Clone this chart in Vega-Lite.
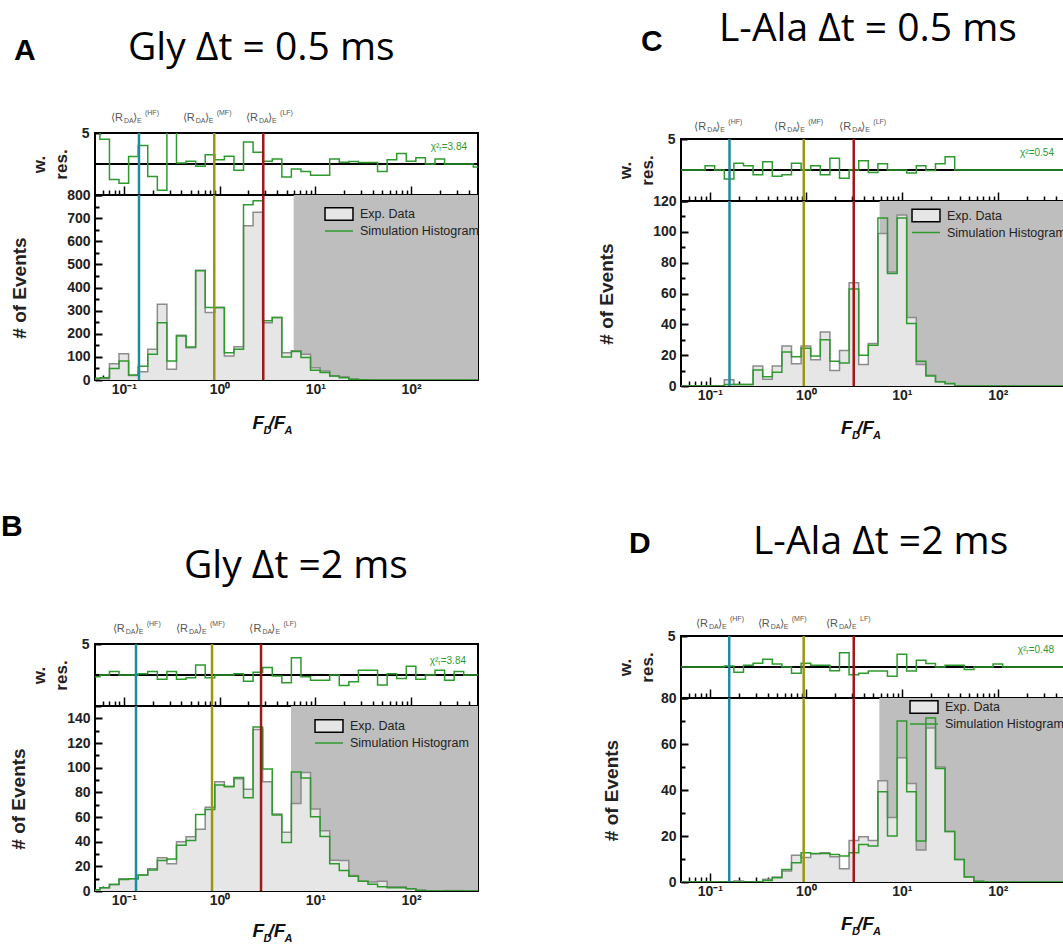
{
"$schema":"https://vega.github.io/schema/vega-lite/v6.json",
"padding":{"left":0,"top":9,"right":0,"bottom":0},
"background":"white",
"datasets":{
"ser":[{"s":"Exp. Data"},{"s":"Simulation Histogram"}],
"lnA":[{"e":0.144,"k":"HF"},{"e":0.88,"k":"MF"},{"e":2.86,"k":"LF"}],
"lnB":[{"e":0.134,"k":"HF"},{"e":0.834,"k":"MF"},{"e":2.71,"k":"LF"}],
"lnC":[{"e":0.16,"k":"HF"},{"e":0.95,"k":"MF"},{"e":3.15,"k":"LF"}],
"lnD":[{"e":0.159,"k":"HF"},{"e":0.948,"k":"MF"},{"e":3.15,"k":"LF"}],
"lbA":[{"e":0.0734,"s":"(HF)"},{"e":0.412,"s":"(MF)"},{"e":1.89,"s":"(LF)"}],
"lbB":[{"e":0.0766,"s":"(HF)"},{"e":0.351,"s":"(MF)"},{"e":2.05,"s":"(LF)"}],
"lbC":[{"e":0.0689,"s":"(HF)"},{"e":0.469,"s":"(MF)"},{"e":2.23,"s":"(LF)"}],
"lbD":[{"e":0.0716,"s":"(HF)"},{"e":0.315,"s":"(MF)"},{"e":1.62,"s":"LF)"}],
"A":[
{"e":0.04467,"exp":0,"sim":8,"res":5.5},{"e":0.05623,"exp":5,"sim":10,"res":4.0},{"e":0.07079,"exp":70,"sim":50,"res":-2.5},{"e":0.08913,"exp":114,"sim":82,"res":-3.1},{"e":0.1122,"exp":20,"sim":22,"res":1.2},{"e":0.1413,"exp":36,"sim":60,"res":3.0},{"e":0.1778,"exp":133,"sim":111,"res":-2.0},{"e":0.2239,"exp":328,"sim":248,"res":-4.25},{"e":0.2818,"exp":46,"sim":82,"res":6},{"e":0.3548,"exp":193,"sim":190,"res":0.15},{"e":0.4467,"exp":140,"sim":143,"res":0.43},{"e":0.5623,"exp":475,"sim":472,"res":-0.38},{"e":0.7079,"exp":292,"sim":313,"res":1.5},{"e":0.8913,"exp":313,"sim":313,"res":0.7},{"e":1.122,"exp":104,"sim":118,"res":1.24},{"e":1.413,"exp":144,"sim":133,"res":-1.0},{"e":1.778,"exp":667,"sim":758,"res":3.55},{"e":2.239,"exp":725,"sim":775,"res":1.88},{"e":2.818,"exp":248,"sim":256,"res":0.43},{"e":3.548,"exp":270,"sim":270,"res":0.8},{"e":4.467,"exp":118,"sim":100,"res":-2.1},{"e":5.623,"exp":126,"sim":123,"res":-0.8},{"e":7.079,"exp":111,"sim":97,"res":-1.2},{"e":8.913,"exp":53,"sim":42,"res":-1.8},{"e":11.22,"exp":39,"sim":32,"res":-1.8},{"e":14.13,"exp":17,"sim":17,"res":0.8},{"e":17.78,"exp":14,"sim":10,"res":0.3},{"e":22.39,"exp":3,"sim":3,"res":0.4},{"e":28.18,"exp":1,"sim":1,"res":0.25},{"e":35.48,"exp":0,"sim":0,"res":0.25},{"e":44.67,"exp":0,"sim":0,"res":-1.2},{"e":56.23,"exp":0,"sim":0,"res":0.7},{"e":70.79,"exp":0,"sim":0,"res":1.7},{"e":89.13,"exp":0,"sim":0,"res":0.45},{"e":112.2,"exp":0,"sim":0,"res":1.0},{"e":141.3,"exp":0,"sim":0,"res":0},{"e":177.8,"exp":0,"sim":0,"res":0.8},{"e":223.9,"exp":0,"sim":0,"res":0},{"e":281.8,"exp":0,"sim":0,"res":0},{"e":354.8,"exp":0,"sim":0,"res":0},{"e":446.7,"exp":0,"sim":0,"res":-0.5},{"e":562.3,"exp":0,"sim":0,"res":-0.5}],
"B":[
{"e":0.04467,"exp":1,"sim":1,"res":-0.3},{"e":0.05623,"exp":2.7,"sim":2.7,"res":0},{"e":0.07079,"exp":5,"sim":5.4,"res":0.55},{"e":0.08913,"exp":10,"sim":9.4,"res":0},{"e":0.1122,"exp":10,"sim":10,"res":0},{"e":0.1413,"exp":13,"sim":13,"res":0.2},{"e":0.1778,"exp":18,"sim":17,"res":0.55},{"e":0.2239,"exp":27,"sim":24.7,"res":-0.7},{"e":0.2818,"exp":22,"sim":26,"res":0.55},{"e":0.3548,"exp":40,"sim":37,"res":-0.7},{"e":0.4467,"exp":44,"sim":41,"res":-0.45},{"e":0.5623,"exp":50,"sim":62,"res":1.6},{"e":0.7079,"exp":68,"sim":66,"res":-0.45},{"e":0.8913,"exp":88.5,"sim":86,"res":0},{"e":1.122,"exp":85,"sim":84.5,"res":0},{"e":1.413,"exp":91,"sim":92,"res":0.2},{"e":1.778,"exp":82.6,"sim":75.6,"res":-1.0},{"e":2.239,"exp":131,"sim":133,"res":0.45},{"e":2.818,"exp":88.5,"sim":99,"res":1.2},{"e":3.548,"exp":62.5,"sim":61.7,"res":-0.15},{"e":4.467,"exp":47.7,"sim":39.4,"res":-1.25},{"e":5.623,"exp":71,"sim":96.5,"res":2.8},{"e":7.079,"exp":96,"sim":91.7,"res":-0.3},{"e":8.913,"exp":66.5,"sim":60.3,"res":-0.85},{"e":11.22,"exp":48.8,"sim":44.2,"res":-0.85},{"e":14.13,"exp":25,"sim":22,"res":0},{"e":17.78,"exp":24.7,"sim":16.6,"res":-1.7},{"e":22.39,"exp":12.6,"sim":12,"res":-1.1},{"e":28.18,"exp":8,"sim":8,"res":0.75},{"e":35.48,"exp":7.2,"sim":5.4,"res":0.75},{"e":44.67,"exp":8,"sim":3.5,"res":-1.6},{"e":56.23,"exp":3.5,"sim":2.7,"res":0.2},{"e":70.79,"exp":3.5,"sim":2.7,"res":-0.55},{"e":89.13,"exp":1.9,"sim":1.9,"res":1.4},{"e":112.2,"exp":0.8,"sim":0.5,"res":-0.7},{"e":141.3,"exp":0.3,"sim":0,"res":0},{"e":177.8,"exp":0,"sim":0,"res":0.75},{"e":223.9,"exp":0.5,"sim":0,"res":-0.85},{"e":281.8,"exp":0.5,"sim":0,"res":0.55},{"e":354.8,"exp":0,"sim":0,"res":0},{"e":446.7,"exp":0,"sim":0,"res":0},{"e":562.3,"exp":0,"sim":0,"res":0}],
"C":[
{"e":0.04467,"exp":0,"sim":0,"res":0},{"e":0.05623,"exp":0,"sim":0,"res":0},{"e":0.07079,"exp":0,"sim":0,"res":0},{"e":0.08913,"exp":0,"sim":0,"res":0.7},{"e":0.1122,"exp":0,"sim":0,"res":0},{"e":0.1413,"exp":4,"sim":1,"res":-1.45},{"e":0.1778,"exp":1,"sim":1,"res":1.1},{"e":0.2239,"exp":1,"sim":1,"res":0.7},{"e":0.2818,"exp":13,"sim":10.4,"res":-0.75},{"e":0.3548,"exp":4.3,"sim":6,"res":1.35},{"e":0.4467,"exp":13,"sim":9,"res":-1.0},{"e":0.5623,"exp":26,"sim":22,"res":-0.75},{"e":0.7079,"exp":14.5,"sim":19,"res":1.1},{"e":0.8913,"exp":26,"sim":24.5,"res":0},{"e":1.122,"exp":17,"sim":19.5,"res":0.7},{"e":1.413,"exp":35,"sim":30,"res":-0.75},{"e":1.778,"exp":10,"sim":16,"res":1.9},{"e":2.239,"exp":23,"sim":15,"res":-1.35},{"e":2.818,"exp":67,"sim":63,"res":0},{"e":3.548,"exp":14,"sim":20,"res":1.5},{"e":4.467,"exp":27.5,"sim":26.5,"res":-0.4},{"e":5.623,"exp":99,"sim":109,"res":1.0},{"e":7.079,"exp":74,"sim":73,"res":0},{"e":8.913,"exp":111,"sim":109,"res":0},{"e":11.22,"exp":44.5,"sim":40.6,"res":-0.5},{"e":14.13,"exp":14,"sim":16,"res":0.7},{"e":17.78,"exp":7,"sim":6.5,"res":-0.1},{"e":22.39,"exp":2.8,"sim":2.8,"res":1.0},{"e":28.18,"exp":1.5,"sim":1.7,"res":2.15},{"e":35.48,"exp":0,"sim":0,"res":0},{"e":44.67,"exp":0,"sim":0,"res":0},{"e":56.23,"exp":0,"sim":0,"res":0},{"e":70.79,"exp":0,"sim":0,"res":0},{"e":89.13,"exp":0,"sim":0,"res":0},{"e":112.2,"exp":0,"sim":0,"res":0},{"e":141.3,"exp":0,"sim":0,"res":0},{"e":177.8,"exp":0,"sim":0,"res":0},{"e":223.9,"exp":0,"sim":0,"res":0},{"e":281.8,"exp":0,"sim":0,"res":0},{"e":354.8,"exp":0,"sim":0,"res":0},{"e":446.7,"exp":0,"sim":0,"res":0},{"e":562.3,"exp":0,"sim":0,"res":0}],
"D":[
{"e":0.04467,"exp":0,"sim":0,"res":0},{"e":0.05623,"exp":0,"sim":0,"res":0},{"e":0.07079,"exp":0,"sim":0,"res":0},{"e":0.08913,"exp":0,"sim":0,"res":0},{"e":0.1122,"exp":0,"sim":0,"res":0},{"e":0.1413,"exp":0,"sim":0,"res":0.15},{"e":0.1778,"exp":0.4,"sim":0,"res":-0.85},{"e":0.2239,"exp":0,"sim":0,"res":0.3},{"e":0.2818,"exp":0,"sim":0,"res":0.6},{"e":0.3548,"exp":1.2,"sim":0.7,"res":1.25},{"e":0.4467,"exp":2.2,"sim":1.9,"res":0.5},{"e":0.5623,"exp":4.8,"sim":5.4,"res":0},{"e":0.7079,"exp":11.6,"sim":8.4,"res":-1.0},{"e":0.8913,"exp":10.6,"sim":12.7,"res":0.6},{"e":1.122,"exp":12.3,"sim":12.4,"res":0.3},{"e":1.413,"exp":12.7,"sim":12.4,"res":0.3},{"e":1.778,"exp":11,"sim":12,"res":-0.6},{"e":2.239,"exp":5.8,"sim":11.3,"res":2.3},{"e":2.818,"exp":18,"sim":12.7,"res":-1.25},{"e":3.548,"exp":19.7,"sim":16.3,"res":-1.0},{"e":4.467,"exp":18,"sim":15.6,"res":-0.65},{"e":5.623,"exp":44,"sim":39.2,"res":-0.65},{"e":7.079,"exp":28,"sim":20,"res":-1.5},{"e":8.913,"exp":54,"sim":70,"res":2.05},{"e":11.22,"exp":42.8,"sim":39.2,"res":-0.65},{"e":14.13,"exp":13.9,"sim":17.8,"res":1.1},{"e":17.78,"exp":67,"sim":71.3,"res":0.55},{"e":22.39,"exp":50,"sim":49.3,"res":0},{"e":28.18,"exp":22,"sim":22,"res":0.3},{"e":35.48,"exp":9.8,"sim":9.8,"res":0.3},{"e":44.67,"exp":2.3,"sim":2.2,"res":-0.4},{"e":56.23,"exp":0.3,"sim":0.3,"res":0},{"e":70.79,"exp":0,"sim":0,"res":0},{"e":89.13,"exp":0,"sim":0,"res":0.5},{"e":112.2,"exp":0,"sim":0,"res":0},{"e":141.3,"exp":0,"sim":0,"res":0},{"e":177.8,"exp":0,"sim":0,"res":0},{"e":223.9,"exp":0,"sim":0,"res":0},{"e":281.8,"exp":0,"sim":0,"res":0},{"e":354.8,"exp":0,"sim":0,"res":0},{"e":446.7,"exp":0,"sim":0,"res":0},{"e":562.3,"exp":0,"sim":0,"res":0}]
},
"bounds":"flush",
"spacing":586,
"resolve":{"scale":{"fill":"independent","stroke":"independent","shape":"independent"}},
"hconcat":[
{"vconcat":[
{"width":383,"height":62,"layer":[
 {"data":{"values":[{}]},"mark":{"type":"rule","color":"black","strokeWidth":2},"encoding":{"y":{"datum":0,"type":"quantitative"}}},
 {"data":{"name":"A"},"mark":{"type":"line","interpolate":"step-after","color":"#2e9a2e","strokeWidth":1.5,"clip":true},"encoding":{"x":{"field":"e","type":"quantitative","scale":{"type":"log","domain":[0.05,500],"nice":false},"axis":{"title":null,"labels":false,"values":[0.06,0.07,0.08,0.09,0.1,0.2,0.3,0.4,0.5,0.6,0.7,0.8,0.9,1,2,3,4,5,6,7,8,9,10,20,30,40,50,60,70,80,90,100,200,300,400],"tickSize":{"condition":{"test":"abs(log(datum.value)/LN10 - round(log(datum.value)/LN10)) < 0.01","value":-9},"value":-5}}},"y":{"field":"res","type":"quantitative","scale":{"domain":[-5,5],"nice":false},"axis":{"title":["w.","res."],"values":[-5,-2.5,0,2.5,5],"labelExpr":"datum.value == 5 || datum.value == 0 ? datum.label : ''","labelSeparation":-40,"tickSize":-6,"tickWidth":2,"titleFontSize":17,"titleLineHeight":22,"titlePadding":11}}}},
 {"data":{"name":"lnA"},"mark":{"type":"rule","strokeWidth":2.5},"encoding":{"x":{"field":"e","type":"quantitative","title":null},"color":{"field":"k","type":"nominal","scale":{"domain":["HF","MF","LF"],"range":["#1e8c9c","#9a9614","#a01818"]},"legend":null}}},
 {"data":{"name":"lbA"},"mark":{"type":"text","text":"⟨R","align":"left","fontSize":11,"color":"#555555","dy":-12},"encoding":{"x":{"field":"e","type":"quantitative","title":null},"y":{"datum":5}}},
 {"data":{"name":"lbA"},"mark":{"type":"text","text":"DA","align":"left","fontSize":7,"color":"#555555","dx":13,"dy":-10},"encoding":{"x":{"field":"e","type":"quantitative","title":null},"y":{"datum":5}}},
 {"data":{"name":"lbA"},"mark":{"type":"text","text":"⟩","align":"left","fontSize":11,"color":"#555555","dx":22,"dy":-12},"encoding":{"x":{"field":"e","type":"quantitative","title":null},"y":{"datum":5}}},
 {"data":{"name":"lbA"},"mark":{"type":"text","text":"E","align":"left","fontSize":7,"color":"#555555","dx":26,"dy":-10},"encoding":{"x":{"field":"e","type":"quantitative","title":null},"y":{"datum":5}}},
 {"data":{"name":"lbA"},"mark":{"type":"text","align":"left","fontSize":7,"color":"#555555","dx":34,"dy":-18},"encoding":{"x":{"field":"e","type":"quantitative","title":null},"y":{"datum":5},"text":{"field":"s"}}},
 {"data":{"values":[{}]},"mark":{"type":"text","text":"χ²ᵣ=3.84","align":"right","fontSize":10,"color":"#2e9a2e","dx":-11,"dy":17},"encoding":{"x":{"datum":500},"y":{"datum":5}}},
 {"data":{"values":[{}]},"mark":{"type":"text","text":"A","align":"left","fontSize":30,"fontWeight":"bold","color":"black","dx":-81,"dy":-73},"encoding":{"x":{"datum":0.05},"y":{"datum":5}}},
 {"data":{"values":[{}]},"mark":{"type":"text","text":"Gly Δt = 0.5 ms","align":"left","font":"Open Sans","fontSize":39,"color":"black","dx":33,"dy":-73},"encoding":{"x":{"datum":0.05},"y":{"datum":5}}}
]},
{"width":383,"height":185,"resolve":{"axis":{"y":"independent"}},"layer":[
 {"data":{"values":[{}]},"mark":{"type":"rect","color":"#bebebe","clip":true},"encoding":{"x":{"datum":5.94},"x2":{"datum":2000}}},
 {"data":{"name":"A"},"mark":{"type":"area","interpolate":"step-after","color":"#e6e6e6","clip":true},"encoding":{"x":{"field":"e","type":"quantitative","scale":{"type":"log","domain":[0.05,500],"nice":false},"axis":{"title":null,"values":[0.06,0.07,0.08,0.09,0.1,0.2,0.3,0.4,0.5,0.6,0.7,0.8,0.9,1,2,3,4,5,6,7,8,9,10,20,30,40,50,60,70,80,90,100,200,300,400],"labelExpr":"datum.value == 0.1 ? '10⁻¹' : datum.value == 1 ? '10⁰' : datum.value == 10 ? '10¹' : datum.value == 100 ? '10²' : ''","labelOverlap":false,"labelFlush":false,"labelPadding":11,"tickSize":{"condition":{"test":"abs(log(datum.value)/LN10 - round(log(datum.value)/LN10)) < 0.01","value":-9},"value":-5}}},"y":{"field":"exp","type":"quantitative","scale":{"domain":[0,800],"nice":false},"axis":{"orient":"left","title":"# of Events","values":[0,200,400,600,800],"tickSize":-7,"tickWidth":2,"titleFontSize":19,"titlePadding":37}}}},
 {"data":{"name":"A"},"mark":{"type":"line","interpolate":"step-after","color":"#8c8c8c","strokeWidth":1.5,"clip":true},"encoding":{"x":{"field":"e","type":"quantitative","title":null},"y":{"field":"exp","type":"quantitative","axis":{"orient":"left","title":null,"values":[100,300,500,700],"tickSize":-7,"tickWidth":2}}}},
 {"data":{"name":"A"},"mark":{"type":"line","interpolate":"step-after","color":"#2e9a2e","strokeWidth":1.5,"clip":true},"encoding":{"x":{"field":"e","type":"quantitative","title":null},"y":{"field":"sim","type":"quantitative","axis":{"orient":"left","title":null,"labels":false,"values":[50,150,250,350,450,550,650,750],"tickSize":-4,"tickWidth":2}}}},
 {"data":{"name":"lnA"},"mark":{"type":"rule","strokeWidth":2.5},"encoding":{"x":{"field":"e","type":"quantitative","title":null},"color":{"field":"k","type":"nominal","legend":null}}},
 {"data":{"name":"ser"},"mark":{"type":"point","clip":true,"filled":true,"opacity":1},"encoding":{"x":{"datum":0.001},
   "shape":{"field":"s","type":"nominal","scale":{"range":["M-2.15,-0.95H2.15V0.95H-2.15Z","M-2.15,0H2.15"]},"legend":{"title":null,"orient":"none","legendX":236.5,"legendY":11.5,"symbolSize":169,"symbolStrokeWidth":1.5,"labelFont":"Liberation Sans","labelFontSize":12.5,"labelColor":"#222222","labelOffset":13.5,"rowPadding":-3,"padding":0}},
   "fill":{"field":"s","type":"nominal","scale":{"range":["#e6e6e6","transparent"]},"legend":{"title":null,"orient":"none","legendX":236.5,"legendY":11.5,"symbolSize":169,"symbolStrokeWidth":1.5,"labelFont":"Liberation Sans","labelFontSize":12.5,"labelColor":"#222222","labelOffset":13.5,"rowPadding":-3,"padding":0}},
   "stroke":{"field":"s","type":"nominal","scale":{"range":["#000000","#2e9a2e"]},"legend":{"title":null,"orient":"none","legendX":236.5,"legendY":11.5,"symbolSize":169,"symbolStrokeWidth":1.5,"labelFont":"Liberation Sans","labelFontSize":12.5,"labelColor":"#222222","labelOffset":13.5,"rowPadding":-3,"padding":0}}}},
 {"data":{"values":[{}]},"mark":{"type":"text","text":"F","align":"left","fontSize":19,"fontWeight":"bold","fontStyle":"italic","color":"#111111","dx":33,"dy":49},"encoding":{"x":{"datum":1},"y":{"datum":0,"axis":null}}},
 {"data":{"values":[{}]},"mark":{"type":"text","text":"D","align":"left","fontSize":11,"fontWeight":"bold","fontStyle":"italic","color":"#111111","dx":44,"dy":54},"encoding":{"x":{"datum":1},"y":{"datum":0,"axis":null}}},
 {"data":{"values":[{}]},"mark":{"type":"text","text":"/F","align":"left","fontSize":19,"fontWeight":"bold","fontStyle":"italic","color":"#111111","dx":49,"dy":49},"encoding":{"x":{"datum":1},"y":{"datum":0,"axis":null}}},
 {"data":{"values":[{}]},"mark":{"type":"text","text":"A","align":"left","fontSize":11,"fontWeight":"bold","fontStyle":"italic","color":"#111111","dx":65,"dy":54},"encoding":{"x":{"datum":1},"y":{"datum":0,"axis":null}}}
]},
{"width":383,"height":264,"view":{"stroke":null},"data":{"values":[]},"mark":"point"},
{"width":383,"height":62,"layer":[
 {"data":{"values":[{}]},"mark":{"type":"rule","color":"black","strokeWidth":2},"encoding":{"y":{"datum":0,"type":"quantitative"}}},
 {"data":{"name":"B"},"mark":{"type":"line","interpolate":"step-after","color":"#2e9a2e","strokeWidth":1.5,"clip":true},"encoding":{"x":{"field":"e","type":"quantitative","scale":{"type":"log","domain":[0.05,500],"nice":false},"axis":{"title":null,"labels":false,"values":[0.06,0.07,0.08,0.09,0.1,0.2,0.3,0.4,0.5,0.6,0.7,0.8,0.9,1,2,3,4,5,6,7,8,9,10,20,30,40,50,60,70,80,90,100,200,300,400],"tickSize":{"condition":{"test":"abs(log(datum.value)/LN10 - round(log(datum.value)/LN10)) < 0.01","value":-9},"value":-5}}},"y":{"field":"res","type":"quantitative","scale":{"domain":[-5,5],"nice":false},"axis":{"title":["w.","res."],"values":[-5,-2.5,0,2.5,5],"labelExpr":"datum.value == 5 || datum.value == 0 ? datum.label : ''","labelSeparation":-40,"tickSize":-6,"tickWidth":2,"titleFontSize":17,"titleLineHeight":22,"titlePadding":11}}}},
 {"data":{"name":"lnB"},"mark":{"type":"rule","strokeWidth":2.5},"encoding":{"x":{"field":"e","type":"quantitative","title":null},"color":{"field":"k","type":"nominal","legend":null}}},
 {"data":{"name":"lbB"},"mark":{"type":"text","text":"⟨R","align":"left","fontSize":11,"color":"#555555","dy":-12},"encoding":{"x":{"field":"e","type":"quantitative","title":null},"y":{"datum":5}}},
 {"data":{"name":"lbB"},"mark":{"type":"text","text":"DA","align":"left","fontSize":7,"color":"#555555","dx":13,"dy":-10},"encoding":{"x":{"field":"e","type":"quantitative","title":null},"y":{"datum":5}}},
 {"data":{"name":"lbB"},"mark":{"type":"text","text":"⟩","align":"left","fontSize":11,"color":"#555555","dx":22,"dy":-12},"encoding":{"x":{"field":"e","type":"quantitative","title":null},"y":{"datum":5}}},
 {"data":{"name":"lbB"},"mark":{"type":"text","text":"E","align":"left","fontSize":7,"color":"#555555","dx":26,"dy":-10},"encoding":{"x":{"field":"e","type":"quantitative","title":null},"y":{"datum":5}}},
 {"data":{"name":"lbB"},"mark":{"type":"text","align":"left","fontSize":7,"color":"#555555","dx":34,"dy":-18},"encoding":{"x":{"field":"e","type":"quantitative","title":null},"y":{"datum":5},"text":{"field":"s"}}},
 {"data":{"values":[{}]},"mark":{"type":"text","text":"χ²ᵣ=3.84","align":"right","fontSize":10,"color":"#2e9a2e","dx":-12,"dy":20},"encoding":{"x":{"datum":500},"y":{"datum":5}}},
 {"data":{"values":[{}]},"mark":{"type":"text","text":"B","align":"left","fontSize":30,"fontWeight":"bold","color":"black","dx":-94,"dy":-108},"encoding":{"x":{"datum":0.05},"y":{"datum":5}}},
 {"data":{"values":[{}]},"mark":{"type":"text","text":"Gly Δt =2 ms","align":"left","font":"Open Sans","fontSize":39,"color":"black","dx":89,"dy":-66},"encoding":{"x":{"datum":0.05},"y":{"datum":5}}}
]},
{"width":383,"height":185,"resolve":{"axis":{"y":"independent"}},"layer":[
 {"data":{"values":[{}]},"mark":{"type":"rect","color":"#bebebe","clip":true},"encoding":{"x":{"datum":5.57},"x2":{"datum":2000}}},
 {"data":{"name":"B"},"mark":{"type":"area","interpolate":"step-after","color":"#e6e6e6","clip":true},"encoding":{"x":{"field":"e","type":"quantitative","scale":{"type":"log","domain":[0.05,500],"nice":false},"axis":{"title":null,"values":[0.06,0.07,0.08,0.09,0.1,0.2,0.3,0.4,0.5,0.6,0.7,0.8,0.9,1,2,3,4,5,6,7,8,9,10,20,30,40,50,60,70,80,90,100,200,300,400],"labelExpr":"datum.value == 0.1 ? '10⁻¹' : datum.value == 1 ? '10⁰' : datum.value == 10 ? '10¹' : datum.value == 100 ? '10²' : ''","labelOverlap":false,"labelFlush":false,"labelPadding":11,"tickSize":{"condition":{"test":"abs(log(datum.value)/LN10 - round(log(datum.value)/LN10)) < 0.01","value":-9},"value":-5}}},"y":{"field":"exp","type":"quantitative","scale":{"domain":[0,150],"nice":false},"axis":{"orient":"left","title":"# of Events","values":[0,40,80,120],"tickSize":-7,"tickWidth":2,"titleFontSize":19,"titlePadding":38}}}},
 {"data":{"name":"B"},"mark":{"type":"line","interpolate":"step-after","color":"#8c8c8c","strokeWidth":1.5,"clip":true},"encoding":{"x":{"field":"e","type":"quantitative","title":null},"y":{"field":"exp","type":"quantitative","axis":{"orient":"left","title":null,"values":[20,60,100,140],"tickSize":-7,"tickWidth":2}}}},
 {"data":{"name":"B"},"mark":{"type":"line","interpolate":"step-after","color":"#2e9a2e","strokeWidth":1.5,"clip":true},"encoding":{"x":{"field":"e","type":"quantitative","title":null},"y":{"field":"sim","type":"quantitative","axis":{"orient":"left","title":null,"labels":false,"values":[10,30,50,70,90,110,130],"tickSize":-4,"tickWidth":2}}}},
 {"data":{"name":"lnB"},"mark":{"type":"rule","strokeWidth":2.5},"encoding":{"x":{"field":"e","type":"quantitative","title":null},"color":{"field":"k","type":"nominal","legend":null}}},
 {"data":{"name":"ser"},"mark":{"type":"point","clip":true,"filled":true,"opacity":1},"encoding":{"x":{"datum":0.001},
   "shape":{"field":"s","type":"nominal","scale":{"range":["M-2.15,-0.95H2.15V0.95H-2.15Z","M-2.15,0H2.15"]},"legend":{"title":null,"orient":"none","legendX":226.5,"legendY":12.5,"symbolSize":169,"symbolStrokeWidth":1.5,"labelFont":"Liberation Sans","labelFontSize":12.5,"labelColor":"#222222","labelOffset":13.5,"rowPadding":-3,"padding":0}},
   "fill":{"field":"s","type":"nominal","scale":{"range":["#e6e6e6","transparent"]},"legend":{"title":null,"orient":"none","legendX":226.5,"legendY":12.5,"symbolSize":169,"symbolStrokeWidth":1.5,"labelFont":"Liberation Sans","labelFontSize":12.5,"labelColor":"#222222","labelOffset":13.5,"rowPadding":-3,"padding":0}},
   "stroke":{"field":"s","type":"nominal","scale":{"range":["#000000","#2e9a2e"]},"legend":{"title":null,"orient":"none","legendX":226.5,"legendY":12.5,"symbolSize":169,"symbolStrokeWidth":1.5,"labelFont":"Liberation Sans","labelFontSize":12.5,"labelColor":"#222222","labelOffset":13.5,"rowPadding":-3,"padding":0}}}},
 {"data":{"values":[{}]},"mark":{"type":"text","text":"F","align":"left","fontSize":19,"fontWeight":"bold","fontStyle":"italic","color":"#111111","dx":33,"dy":46},"encoding":{"x":{"datum":1},"y":{"datum":0,"axis":null}}},
 {"data":{"values":[{}]},"mark":{"type":"text","text":"D","align":"left","fontSize":11,"fontWeight":"bold","fontStyle":"italic","color":"#111111","dx":44,"dy":51},"encoding":{"x":{"datum":1},"y":{"datum":0,"axis":null}}},
 {"data":{"values":[{}]},"mark":{"type":"text","text":"/F","align":"left","fontSize":19,"fontWeight":"bold","fontStyle":"italic","color":"#111111","dx":49,"dy":46},"encoding":{"x":{"datum":1},"y":{"datum":0,"axis":null}}},
 {"data":{"values":[{}]},"mark":{"type":"text","text":"A","align":"left","fontSize":11,"fontWeight":"bold","fontStyle":"italic","color":"#111111","dx":65,"dy":51},"encoding":{"x":{"datum":1},"y":{"datum":0,"axis":null}}}
]}
],"spacing":0,"bounds":"flush","resolve":{"scale":{"fill":"independent","stroke":"independent","shape":"independent"}}},

{"vconcat":[
{"width":384,"height":6,"view":{"stroke":null},"data":{"values":[]},"mark":"point"},
{"width":384,"height":62,"layer":[
 {"data":{"values":[{}]},"mark":{"type":"rule","color":"black","strokeWidth":2},"encoding":{"y":{"datum":0,"type":"quantitative"}}},
 {"data":{"name":"C"},"mark":{"type":"line","interpolate":"step-after","color":"#2e9a2e","strokeWidth":1.5,"clip":true},"encoding":{"x":{"field":"e","type":"quantitative","scale":{"type":"log","domain":[0.05,500],"nice":false},"axis":{"title":null,"labels":false,"values":[0.06,0.07,0.08,0.09,0.1,0.2,0.3,0.4,0.5,0.6,0.7,0.8,0.9,1,2,3,4,5,6,7,8,9,10,20,30,40,50,60,70,80,90,100,200,300,400],"tickSize":{"condition":{"test":"abs(log(datum.value)/LN10 - round(log(datum.value)/LN10)) < 0.01","value":-9},"value":-5}}},"y":{"field":"res","type":"quantitative","scale":{"domain":[-5,5],"nice":false},"axis":{"title":["w.","res."],"values":[-5,-2.5,0,2.5,5],"labelExpr":"datum.value == 5 || datum.value == 0 ? datum.label : ''","labelSeparation":-40,"tickSize":-6,"tickWidth":2,"titleFontSize":17,"titleLineHeight":22,"titlePadding":11}}}},
 {"data":{"name":"lnC"},"mark":{"type":"rule","strokeWidth":2.5},"encoding":{"x":{"field":"e","type":"quantitative","title":null},"color":{"field":"k","type":"nominal","legend":null}}},
 {"data":{"name":"lbC"},"mark":{"type":"text","text":"⟨R","align":"left","fontSize":11,"color":"#555555","dy":-9},"encoding":{"x":{"field":"e","type":"quantitative","title":null},"y":{"datum":5}}},
 {"data":{"name":"lbC"},"mark":{"type":"text","text":"DA","align":"left","fontSize":7,"color":"#555555","dx":13,"dy":-7},"encoding":{"x":{"field":"e","type":"quantitative","title":null},"y":{"datum":5}}},
 {"data":{"name":"lbC"},"mark":{"type":"text","text":"⟩","align":"left","fontSize":11,"color":"#555555","dx":22,"dy":-9},"encoding":{"x":{"field":"e","type":"quantitative","title":null},"y":{"datum":5}}},
 {"data":{"name":"lbC"},"mark":{"type":"text","text":"E","align":"left","fontSize":7,"color":"#555555","dx":26,"dy":-7},"encoding":{"x":{"field":"e","type":"quantitative","title":null},"y":{"datum":5}}},
 {"data":{"name":"lbC"},"mark":{"type":"text","align":"left","fontSize":7,"color":"#555555","dx":34,"dy":-15},"encoding":{"x":{"field":"e","type":"quantitative","title":null},"y":{"datum":5},"text":{"field":"s"}}},
 {"data":{"values":[{}]},"mark":{"type":"text","text":"χ²=0.54","align":"right","fontSize":10,"color":"#2e9a2e","dx":-11,"dy":17},"encoding":{"x":{"datum":500},"y":{"datum":5}}},
 {"data":{"values":[{}]},"mark":{"type":"text","text":"C","align":"left","fontSize":30,"fontWeight":"bold","color":"black","dx":-40,"dy":-88},"encoding":{"x":{"datum":0.05},"y":{"datum":5}}},
 {"data":{"values":[{}]},"mark":{"type":"text","text":"L-Ala Δt = 0.5 ms","align":"left","font":"Open Sans","fontSize":39,"color":"black","dx":38,"dy":-98},"encoding":{"x":{"datum":0.05},"y":{"datum":5}}}
]},
{"width":384,"height":185,"resolve":{"axis":{"y":"independent"}},"layer":[
 {"data":{"values":[{}]},"mark":{"type":"rect","color":"#bebebe","clip":true},"encoding":{"x":{"datum":5.85},"x2":{"datum":2000}}},
 {"data":{"name":"C"},"mark":{"type":"area","interpolate":"step-after","color":"#e6e6e6","clip":true},"encoding":{"x":{"field":"e","type":"quantitative","scale":{"type":"log","domain":[0.05,500],"nice":false},"axis":{"title":null,"values":[0.06,0.07,0.08,0.09,0.1,0.2,0.3,0.4,0.5,0.6,0.7,0.8,0.9,1,2,3,4,5,6,7,8,9,10,20,30,40,50,60,70,80,90,100,200,300,400],"labelExpr":"datum.value == 0.1 ? '10⁻¹' : datum.value == 1 ? '10⁰' : datum.value == 10 ? '10¹' : datum.value == 100 ? '10²' : ''","labelOverlap":false,"labelFlush":false,"labelPadding":11,"tickSize":{"condition":{"test":"abs(log(datum.value)/LN10 - round(log(datum.value)/LN10)) < 0.01","value":-9},"value":-5}}},"y":{"field":"exp","type":"quantitative","scale":{"domain":[0,120],"nice":false},"axis":{"orient":"left","title":"# of Events","values":[0,40,80,120],"tickSize":-7,"tickWidth":2,"titleFontSize":19,"titlePadding":36}}}},
 {"data":{"name":"C"},"mark":{"type":"line","interpolate":"step-after","color":"#8c8c8c","strokeWidth":1.5,"clip":true},"encoding":{"x":{"field":"e","type":"quantitative","title":null},"y":{"field":"exp","type":"quantitative","axis":{"orient":"left","title":null,"values":[20,60,100],"tickSize":-7,"tickWidth":2}}}},
 {"data":{"name":"C"},"mark":{"type":"line","interpolate":"step-after","color":"#2e9a2e","strokeWidth":1.5,"clip":true},"encoding":{"x":{"field":"e","type":"quantitative","title":null},"y":{"field":"sim","type":"quantitative","axis":{"orient":"left","title":null,"labels":false,"values":[10,30,50,70,90,110],"tickSize":-4,"tickWidth":2}}}},
 {"data":{"name":"lnC"},"mark":{"type":"rule","strokeWidth":2.5},"encoding":{"x":{"field":"e","type":"quantitative","title":null},"color":{"field":"k","type":"nominal","legend":null}}},
 {"data":{"name":"ser"},"mark":{"type":"point","clip":true,"filled":true,"opacity":1},"encoding":{"x":{"datum":0.001},
   "shape":{"field":"s","type":"nominal","scale":{"range":["M-2.15,-0.95H2.15V0.95H-2.15Z","M-2.15,0H2.15"]},"legend":{"title":null,"orient":"none","legendX":237.5,"legendY":7,"symbolSize":169,"symbolStrokeWidth":1.5,"labelFont":"Liberation Sans","labelFontSize":12.5,"labelColor":"#222222","labelOffset":13.5,"rowPadding":-3,"padding":0}},
   "fill":{"field":"s","type":"nominal","scale":{"range":["#e6e6e6","transparent"]},"legend":{"title":null,"orient":"none","legendX":237.5,"legendY":7,"symbolSize":169,"symbolStrokeWidth":1.5,"labelFont":"Liberation Sans","labelFontSize":12.5,"labelColor":"#222222","labelOffset":13.5,"rowPadding":-3,"padding":0}},
   "stroke":{"field":"s","type":"nominal","scale":{"range":["#000000","#2e9a2e"]},"legend":{"title":null,"orient":"none","legendX":237.5,"legendY":7,"symbolSize":169,"symbolStrokeWidth":1.5,"labelFont":"Liberation Sans","labelFontSize":12.5,"labelColor":"#222222","labelOffset":13.5,"rowPadding":-3,"padding":0}}}},
 {"data":{"values":[{}]},"mark":{"type":"text","text":"F","align":"left","fontSize":19,"fontWeight":"bold","fontStyle":"italic","color":"#111111","dx":35,"dy":48},"encoding":{"x":{"datum":1},"y":{"datum":0,"axis":null}}},
 {"data":{"values":[{}]},"mark":{"type":"text","text":"D","align":"left","fontSize":11,"fontWeight":"bold","fontStyle":"italic","color":"#111111","dx":46,"dy":53},"encoding":{"x":{"datum":1},"y":{"datum":0,"axis":null}}},
 {"data":{"values":[{}]},"mark":{"type":"text","text":"/F","align":"left","fontSize":19,"fontWeight":"bold","fontStyle":"italic","color":"#111111","dx":51,"dy":48},"encoding":{"x":{"datum":1},"y":{"datum":0,"axis":null}}},
 {"data":{"values":[{}]},"mark":{"type":"text","text":"A","align":"left","fontSize":11,"fontWeight":"bold","fontStyle":"italic","color":"#111111","dx":67,"dy":53},"encoding":{"x":{"datum":1},"y":{"datum":0,"axis":null}}}
]},
{"width":384,"height":250,"view":{"stroke":null},"data":{"values":[]},"mark":"point"},
{"width":384,"height":62,"layer":[
 {"data":{"values":[{}]},"mark":{"type":"rule","color":"black","strokeWidth":2},"encoding":{"y":{"datum":0,"type":"quantitative"}}},
 {"data":{"name":"D"},"mark":{"type":"line","interpolate":"step-after","color":"#2e9a2e","strokeWidth":1.5,"clip":true},"encoding":{"x":{"field":"e","type":"quantitative","scale":{"type":"log","domain":[0.05,500],"nice":false},"axis":{"title":null,"labels":false,"values":[0.06,0.07,0.08,0.09,0.1,0.2,0.3,0.4,0.5,0.6,0.7,0.8,0.9,1,2,3,4,5,6,7,8,9,10,20,30,40,50,60,70,80,90,100,200,300,400],"tickSize":{"condition":{"test":"abs(log(datum.value)/LN10 - round(log(datum.value)/LN10)) < 0.01","value":-9},"value":-5}}},"y":{"field":"res","type":"quantitative","scale":{"domain":[-5,5],"nice":false},"axis":{"title":["w.","res."],"values":[-5,-2.5,0,2.5,5],"labelExpr":"datum.value == 5 || datum.value == 0 ? datum.label : ''","labelSeparation":-40,"tickSize":-6,"tickWidth":2,"titleFontSize":17,"titleLineHeight":22,"titlePadding":11}}}},
 {"data":{"name":"lnD"},"mark":{"type":"rule","strokeWidth":2.5},"encoding":{"x":{"field":"e","type":"quantitative","title":null},"color":{"field":"k","type":"nominal","legend":null}}},
 {"data":{"name":"lbD"},"mark":{"type":"text","text":"⟨R","align":"left","fontSize":11,"color":"#555555","dy":-9},"encoding":{"x":{"field":"e","type":"quantitative","title":null},"y":{"datum":5}}},
 {"data":{"name":"lbD"},"mark":{"type":"text","text":"DA","align":"left","fontSize":7,"color":"#555555","dx":13,"dy":-7},"encoding":{"x":{"field":"e","type":"quantitative","title":null},"y":{"datum":5}}},
 {"data":{"name":"lbD"},"mark":{"type":"text","text":"⟩","align":"left","fontSize":11,"color":"#555555","dx":22,"dy":-9},"encoding":{"x":{"field":"e","type":"quantitative","title":null},"y":{"datum":5}}},
 {"data":{"name":"lbD"},"mark":{"type":"text","text":"E","align":"left","fontSize":7,"color":"#555555","dx":26,"dy":-7},"encoding":{"x":{"field":"e","type":"quantitative","title":null},"y":{"datum":5}}},
 {"data":{"name":"lbD"},"mark":{"type":"text","align":"left","fontSize":7,"color":"#555555","dx":34,"dy":-15},"encoding":{"x":{"field":"e","type":"quantitative","title":null},"y":{"datum":5},"text":{"field":"s"}}},
 {"data":{"values":[{}]},"mark":{"type":"text","text":"χ²ᵣ=0.48","align":"right","fontSize":10,"color":"#2e9a2e","dx":-11,"dy":17},"encoding":{"x":{"datum":500},"y":{"datum":5}}},
 {"data":{"values":[{}]},"mark":{"type":"text","text":"D","align":"left","fontSize":30,"fontWeight":"bold","color":"black","dx":-52,"dy":-83},"encoding":{"x":{"datum":0.05},"y":{"datum":5}}},
 {"data":{"values":[{}]},"mark":{"type":"text","text":"L-Ala Δt =2 ms","align":"left","font":"Open Sans","fontSize":39,"color":"black","dx":72,"dy":-82},"encoding":{"x":{"datum":0.05},"y":{"datum":5}}}
]},
{"width":384,"height":184,"resolve":{"axis":{"y":"independent"}},"layer":[
 {"data":{"values":[{}]},"mark":{"type":"rect","color":"#bebebe","clip":true},"encoding":{"x":{"datum":5.82},"x2":{"datum":2000}}},
 {"data":{"name":"D"},"mark":{"type":"area","interpolate":"step-after","color":"#e6e6e6","clip":true},"encoding":{"x":{"field":"e","type":"quantitative","scale":{"type":"log","domain":[0.05,500],"nice":false},"axis":{"title":null,"values":[0.06,0.07,0.08,0.09,0.1,0.2,0.3,0.4,0.5,0.6,0.7,0.8,0.9,1,2,3,4,5,6,7,8,9,10,20,30,40,50,60,70,80,90,100,200,300,400],"labelExpr":"datum.value == 0.1 ? '10⁻¹' : datum.value == 1 ? '10⁰' : datum.value == 10 ? '10¹' : datum.value == 100 ? '10²' : ''","labelOverlap":false,"labelFlush":false,"labelPadding":11,"tickSize":{"condition":{"test":"abs(log(datum.value)/LN10 - round(log(datum.value)/LN10)) < 0.01","value":-9},"value":-5}}},"y":{"field":"exp","type":"quantitative","scale":{"domain":[0,80],"nice":false},"axis":{"orient":"left","title":"# of Events","values":[0,40,80],"tickSize":-7,"tickWidth":2,"titleFontSize":19,"titlePadding":39}}}},
 {"data":{"name":"D"},"mark":{"type":"line","interpolate":"step-after","color":"#8c8c8c","strokeWidth":1.5,"clip":true},"encoding":{"x":{"field":"e","type":"quantitative","title":null},"y":{"field":"exp","type":"quantitative","axis":{"orient":"left","title":null,"values":[20,60],"tickSize":-7,"tickWidth":2}}}},
 {"data":{"name":"D"},"mark":{"type":"line","interpolate":"step-after","color":"#2e9a2e","strokeWidth":1.5,"clip":true},"encoding":{"x":{"field":"e","type":"quantitative","title":null},"y":{"field":"sim","type":"quantitative","axis":{"orient":"left","title":null,"labels":false,"values":[10,30,50,70],"tickSize":-4,"tickWidth":2}}}},
 {"data":{"name":"lnD"},"mark":{"type":"rule","strokeWidth":2.5},"encoding":{"x":{"field":"e","type":"quantitative","title":null},"color":{"field":"k","type":"nominal","legend":null}}},
 {"data":{"name":"ser"},"mark":{"type":"point","clip":true,"filled":true,"opacity":1},"encoding":{"x":{"datum":0.001},
   "shape":{"field":"s","type":"nominal","scale":{"range":["M-2.15,-0.95H2.15V0.95H-2.15Z","M-2.15,0H2.15"]},"legend":{"title":null,"orient":"none","legendX":235.5,"legendY":1.5,"symbolSize":169,"symbolStrokeWidth":1.5,"labelFont":"Liberation Sans","labelFontSize":12.5,"labelColor":"#222222","labelOffset":13.5,"rowPadding":-3,"padding":0}},
   "fill":{"field":"s","type":"nominal","scale":{"range":["#e6e6e6","transparent"]},"legend":{"title":null,"orient":"none","legendX":235.5,"legendY":1.5,"symbolSize":169,"symbolStrokeWidth":1.5,"labelFont":"Liberation Sans","labelFontSize":12.5,"labelColor":"#222222","labelOffset":13.5,"rowPadding":-3,"padding":0}},
   "stroke":{"field":"s","type":"nominal","scale":{"range":["#000000","#2e9a2e"]},"legend":{"title":null,"orient":"none","legendX":235.5,"legendY":1.5,"symbolSize":169,"symbolStrokeWidth":1.5,"labelFont":"Liberation Sans","labelFontSize":12.5,"labelColor":"#222222","labelOffset":13.5,"rowPadding":-3,"padding":0}}}},
 {"data":{"values":[{}]},"mark":{"type":"text","text":"F","align":"left","fontSize":19,"fontWeight":"bold","fontStyle":"italic","color":"#111111","dx":35,"dy":48},"encoding":{"x":{"datum":1},"y":{"datum":0,"axis":null}}},
 {"data":{"values":[{}]},"mark":{"type":"text","text":"D","align":"left","fontSize":11,"fontWeight":"bold","fontStyle":"italic","color":"#111111","dx":46,"dy":53},"encoding":{"x":{"datum":1},"y":{"datum":0,"axis":null}}},
 {"data":{"values":[{}]},"mark":{"type":"text","text":"/F","align":"left","fontSize":19,"fontWeight":"bold","fontStyle":"italic","color":"#111111","dx":51,"dy":48},"encoding":{"x":{"datum":1},"y":{"datum":0,"axis":null}}},
 {"data":{"values":[{}]},"mark":{"type":"text","text":"A","align":"left","fontSize":11,"fontWeight":"bold","fontStyle":"italic","color":"#111111","dx":67,"dy":53},"encoding":{"x":{"datum":1},"y":{"datum":0,"axis":null}}}
]}
],"spacing":0,"bounds":"flush","resolve":{"scale":{"fill":"independent","stroke":"independent","shape":"independent"}}}
],
"config":{
 "view":{"stroke":"black","strokeWidth":2},
 "axis":{"domain":false,"grid":false,"ticks":true,"tickColor":"black","tickWidth":1.5,"labelFont":"Liberation Sans","labelFontSize":14,"labelFontWeight":"bold","labelColor":"#222222","labelPadding":12,"labelOverlap":false,"titleFont":"Liberation Sans","titleFontWeight":"bold","titleColor":"#222222"},
 "text":{"font":"Liberation Sans","baseline":"alphabetic"}
}
}
